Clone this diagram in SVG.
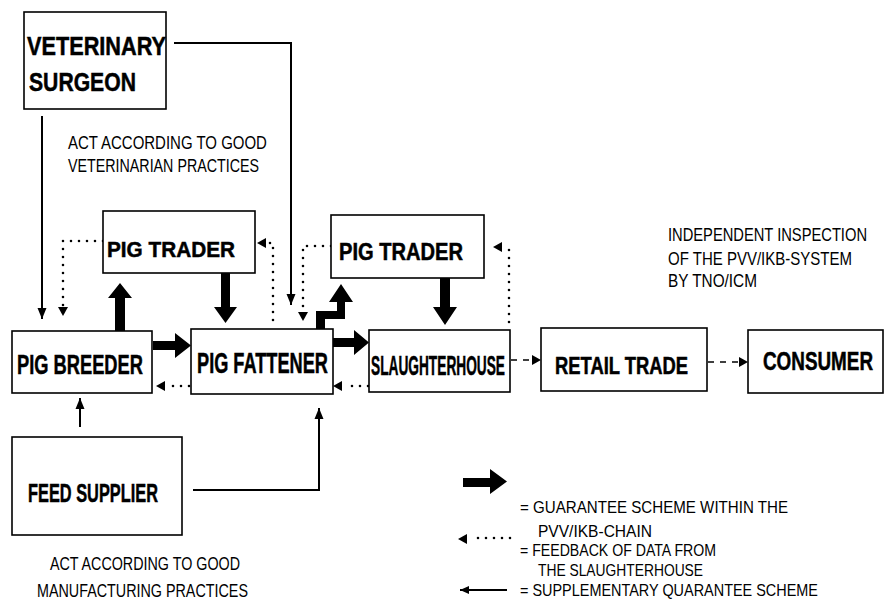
<svg xmlns="http://www.w3.org/2000/svg" width="885" height="609" viewBox="0 0 885 609">
<style>
.box{fill:#fff;stroke:#000;stroke-width:1.6}
.lbl{font-family:"Liberation Sans",Arial,sans-serif;font-weight:bold;fill:#000;stroke:#000;stroke-width:0.5}
.txt{font-family:"Liberation Sans",Arial,sans-serif;fill:#000}
.thin{fill:none;stroke:#000;stroke-width:2}
.dot{fill:none;stroke:#000;stroke-width:2.6;stroke-linecap:round;stroke-dasharray:0 8}
.dash{fill:none;stroke:#000;stroke-width:1.6;stroke-dasharray:6 6}
.thick{fill:#000}
</style>
<defs>
<marker id="ah" markerUnits="userSpaceOnUse" markerWidth="12" markerHeight="12" viewBox="0 0 12 12" refX="11" refY="6" orient="auto">
<path d="M0,1.5 L11,6 L0,10.5 Z" fill="#000"/>
</marker>
<marker id="ahs" markerUnits="userSpaceOnUse" markerWidth="10" markerHeight="10" viewBox="0 0 10 10" refX="9" refY="5" orient="auto">
<path d="M0,1 L9,5 L0,9 Z" fill="#000"/>
</marker>
</defs>

<g id="connectors">
<path class="thin" d="M174,43 H291 V305" marker-end="url(#ah)"/>
<path class="thin" d="M42,116 V319" marker-end="url(#ah)"/>
<path class="thin" d="M80,427 V398" marker-end="url(#ah)"/>
<path class="thin" d="M193,490 H319 V408" marker-end="url(#ah)"/>
<path class="dot" d="M103,241 H63 V306"/>
<path d="M58,307 L68,307 L63,316 Z" fill="#000"/>
<path class="dot" d="M273,320 V243 H268"/>
<path d="M266,238 L266,248 L257,243 Z" fill="#000"/>
<path class="dot" d="M331,246 H303 V312"/>
<path d="M298,312 L308,312 L303,321 Z" fill="#000"/>
<path class="dot" d="M509,322 V247"/>
<path d="M502,242 L502,252 L493,247 Z" fill="#000"/>
<path class="dot" d="M189,386 H166"/>
<path d="M165,381 L165,391 L156,386 Z" fill="#000"/>
<path class="dot" d="M368,386 H344"/>
<path d="M342,381 L342,391 L333,386 Z" fill="#000"/>
<path class="dash" d="M511,360 H534"/>
<path d="M532,355 L532,365 L541,360 Z" fill="#000"/>
<path class="dash" d="M708,362 H740"/>
<path d="M739,357 L739,367 L748,362 Z" fill="#000"/>
<polygon class="thick" points="115,332 115,298 108,298 120,283 132,298 125,298 125,332"/>
<polygon class="thick" points="221,273 230,273 230,307 237,307 225.5,323 214,307 221,307"/>
<polygon class="thick" points="153,341 175,341 175,333 191,345.5 175,358 175,350 153,350"/>
<polygon class="thick" points="316,333 316,311 337,311 337,302 329,302 341,284 353,302 345,302 345,319 325,319 325,333"/>
<polygon class="thick" points="333,338 354,338 354,330 369,342.5 354,355 354,347 333,347"/>
<polygon class="thick" points="440,278 450,278 450,307 457,307 445,325 433,307 440,307"/>
</g>

<g id="vet">
<rect class="box" x="24" y="12" width="142" height="97"/>
<text class="lbl" transform="translate(27,55) scale(0.83,1)" font-size="26" textLength="167.5" lengthAdjust="spacingAndGlyphs">VETERINARY</text>
<text class="lbl" transform="translate(29,91) scale(0.81,1)" font-size="26" textLength="132" lengthAdjust="spacingAndGlyphs">SURGEON</text>
</g>
<g id="vet-note">
<text class="txt" transform="translate(68,149) scale(0.78,1)" font-size="19" textLength="255" lengthAdjust="spacingAndGlyphs">ACT ACCORDING TO GOOD</text>
<text class="txt" transform="translate(68,172) scale(0.75,1)" font-size="19" textLength="254.7" lengthAdjust="spacingAndGlyphs">VETERINARIAN PRACTICES</text>
</g>

<g id="trader1">
<rect class="box" x="103" y="211" width="152" height="62"/>
<text class="lbl" transform="translate(107,257) scale(0.94,1)" font-size="22" textLength="136.2" lengthAdjust="spacingAndGlyphs">PIG TRADER</text>
</g>
<g id="trader2">
<rect class="box" x="331" y="215" width="153" height="63"/>
<text class="lbl" transform="translate(339,260) scale(0.87,1)" font-size="23" textLength="142.5" lengthAdjust="spacingAndGlyphs">PIG TRADER</text>
</g>

<g id="breeder">
<rect class="box" x="12" y="331" width="140" height="62"/>
<text class="lbl" transform="translate(17,374) scale(0.65,1)" font-size="28" textLength="193.8" lengthAdjust="spacingAndGlyphs">PIG BREEDER</text>
</g>
<g id="fattener">
<rect class="box" x="191" y="329" width="142" height="65"/>
<text class="lbl" transform="translate(197,373) scale(0.6,1)" font-size="30" textLength="218.3" lengthAdjust="spacingAndGlyphs">PIG FATTENER</text>
</g>
<g id="slaughterhouse">
<rect class="box" x="369" y="330" width="141" height="62"/>
<text class="lbl" transform="translate(371,375) scale(0.49,1)" font-size="28" textLength="273.5" lengthAdjust="spacingAndGlyphs">SLAUGHTERHOUSE</text>
</g>
<g id="retail">
<rect class="box" x="541" y="328" width="166" height="63"/>
<text class="lbl" transform="translate(555,374) scale(0.79,1)" font-size="23" textLength="168.4" lengthAdjust="spacingAndGlyphs">RETAIL TRADE</text>
</g>
<g id="consumer">
<rect class="box" x="748" y="330" width="135" height="63"/>
<text class="lbl" transform="translate(763,370) scale(0.75,1)" font-size="25" textLength="146.7" lengthAdjust="spacingAndGlyphs">CONSUMER</text>
</g>

<g id="inspection-note">
<text class="txt" transform="translate(668,241) scale(0.82,1)" font-size="18" textLength="242.7" lengthAdjust="spacingAndGlyphs">INDEPENDENT INSPECTION</text>
<text class="txt" transform="translate(668,265) scale(0.83,1)" font-size="18" textLength="221.7" lengthAdjust="spacingAndGlyphs">OF THE PVV/IKB-SYSTEM</text>
<text class="txt" transform="translate(668,287) scale(0.85,1)" font-size="18" textLength="104.7" lengthAdjust="spacingAndGlyphs">BY TNO/ICM</text>
</g>

<g id="feed">
<rect class="box" x="12" y="437" width="170" height="98"/>
<text class="lbl" transform="translate(28,502) scale(0.63,1)" font-size="26" textLength="206.3" lengthAdjust="spacingAndGlyphs">FEED SUPPLIER</text>
</g>
<g id="feed-note">
<text class="txt" transform="translate(50,570) scale(0.75,1)" font-size="19" textLength="253.3" lengthAdjust="spacingAndGlyphs">ACT ACCORDING TO GOOD</text>
<text class="txt" transform="translate(37,597) scale(0.75,1)" font-size="19" textLength="281.3" lengthAdjust="spacingAndGlyphs">MANUFACTURING PRACTICES</text>
</g>

<g id="legend">
<polygon class="thick" points="463,478 490,478 490,469 507,481.5 490,494 490,487 463,487"/>
<text class="txt" transform="translate(520,513) scale(0.94,1)" font-size="16" textLength="285.1" lengthAdjust="spacingAndGlyphs">= GUARANTEE SCHEME WITHIN THE</text>
<text class="txt" transform="translate(538,537) scale(0.97,1)" font-size="16" textLength="117.5" lengthAdjust="spacingAndGlyphs">PVV/IKB-CHAIN</text>
<path class="dot" d="M510,538 H474"/>
<path d="M467,534 L467,544 L458,539 Z" fill="#000"/>
<text class="txt" transform="translate(520,556) scale(0.87,1)" font-size="16" textLength="225.3" lengthAdjust="spacingAndGlyphs">= FEEDBACK OF DATA FROM</text>
<text class="txt" transform="translate(538,576) scale(0.86,1)" font-size="16" textLength="191.9" lengthAdjust="spacingAndGlyphs">THE SLAUGHTERHOUSE</text>
<path class="thin" d="M507,590 H460" marker-end="url(#ahs)"/>
<text class="txt" transform="translate(520,596) scale(0.9,1)" font-size="16" textLength="331.1" lengthAdjust="spacingAndGlyphs">= SUPPLEMENTARY QUARANTEE SCHEME</text>
</g>
</svg>
